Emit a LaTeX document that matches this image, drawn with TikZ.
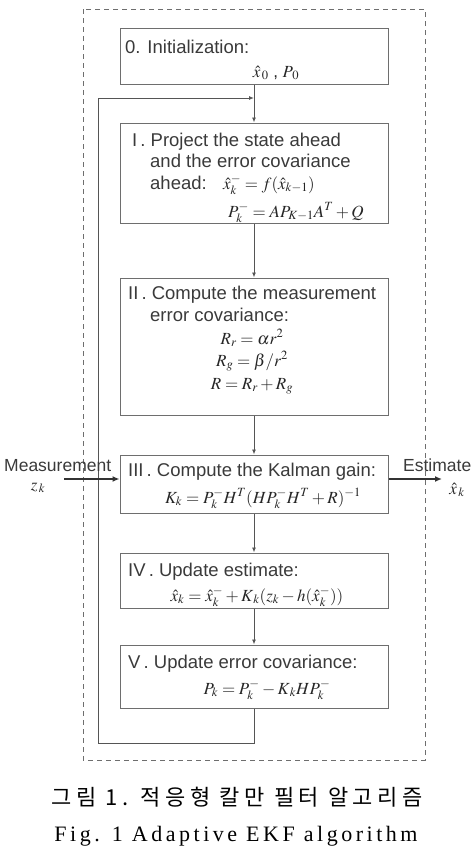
\documentclass[tikz,border=0pt]{standalone}
\usepackage{mathptmx}
\usepackage{fontspec}
\setmainfont{Liberation Sans}
\newfontfamily\capserif[LetterSpace=16]{Liberation Serif}
\newfontfamily\capkr[LetterSpace=20]{Noto Sans CJK KR}
\usetikzlibrary{arrows.meta, positioning}
\definecolor{boxline}{HTML}{6E6E6E}
\definecolor{flowline}{HTML}{555555}
\definecolor{inktext}{HTML}{3A3A3A}
\tikzset{
  stagebox/.style={draw=boxline, line width=1pt, minimum width=268pt, inner sep=0pt},
  flow/.style={draw=flowline, line width=0.9pt, -{Latex[length=5pt, width=4pt]}},
  bigflow/.style={draw=black!80, line width=1.6pt, -{Latex[length=7pt, width=6pt]}},
  steptext/.style={anchor=base west, inner sep=0pt, text=inktext},
  sidetext/.style={steptext, font=\fontsize{17.5}{20}\selectfont},
  eqn/.style={anchor=base, inner sep=0pt, text=black!85, font=\fontsize{17}{20}\selectfont},
}

\begin{document}
\begin{tikzpicture}[x=1pt, y=-1pt, font=\fontsize{18.5}{21}\selectfont]
  \useasboundingbox (0,0) rectangle (475,847);
  % --- dashed frame round the filter loop ---
  \draw[boxline, line width=0.9pt, dash pattern=on 5pt off 4pt] (83,9) rectangle (425,760);
  % --- the five stages plus initialization ---
  \node[stagebox, minimum height=56pt]  (init)     at (254,56)    {};
  \node[stagebox, minimum height=100pt] (predict)  at (254,173)   {};
  \node[stagebox, minimum height=137pt] (noisecov) at (254,346.5) {};
  \node[stagebox, minimum height=58pt]  (gain)     at (254,484)   {};
  \node[stagebox, minimum height=55pt]  (update)   at (254,580.5) {};
  \node[stagebox, minimum height=63pt]  (covupd)   at (254,676.5) {};
  % 0. initialization
  \node[steptext] (initttl) at (125,53) {0. Initialization:};
  \node[eqn] (initeq) at (276,77) {$\hat{x}_{\,0}$\ ,\ $P_{\,0}$};
  % I. prediction
  \node[steptext] (predttl1) at (132,146) {I\,. Project the state ahead};
  \node[steptext] (predttl2) at (150,167) {and the error covariance};
  \node[steptext] (predttl3) at (150,189) {ahead:};
  \node[eqn, anchor=base west] (predeq1) at (223,189) {$\hat{x}_k^- = f(\hat{x}_{k-1})$};
  \node[eqn, anchor=base west] (predeq2) at (228,217) {$P_k^- = AP_{K-1}A^T + Q$};
  % II. measurement noise
  \node[steptext] (covttl1) at (128,299) {II\,. Compute the measurement};
  \node[steptext] (covttl2) at (150,321) {error covariance:};
  \node[eqn] (coveq1) at (252,344) {$R_r = \alpha r^2$};
  \node[eqn] (coveq2) at (252,366) {$R_g = \beta / r^2$};
  \node[eqn] (coveq3) at (252,389) {$R = R_r + R_g$};
  % III. gain
  \node[steptext] (gainttl) at (128,476) {III\,. Compute the Kalman gain:};
  \node[eqn] (gaineq) at (263,503) {$K_k = P_k^- H^T (HP_k^- H^T + R)^{-1}$};
  % IV. estimate
  \node[steptext] (updttl) at (128,576) {IV\,. Update estimate:};
  \node[eqn] (updeq) at (257,601) {$\hat{x}_k = \hat{x}_k^- + K_{\,k} (z_k - h(\hat{x}_k^-))$};
  % V. covariance
  \node[steptext] (cupttl) at (128,668) {V\,. Update error covariance:};
  \node[eqn] (cupeq) at (267,694) {$P_k = P_k^- - K_{\,k} H P_k^-$};
  % --- flow between stages ---
  \draw[flow] (init) -- (predict);
  \draw[flow] (predict) -- (noisecov);
  \draw[flow] (noisecov) -- (gain);
  \draw[flow] (gain) -- (update);
  \draw[flow] (update) -- (covupd);
  % --- feedback loop back to the top ---
  \coordinate (loopbot) at (98,743);
  \coordinate (looptop) at (98,98);
  \coordinate (merge)   at (254,98);
  \draw[flow] (covupd.south) |- (loopbot) -- (looptop) -- (merge);
  % --- measurement in, estimate out ---
  \coordinate (zin)  at (64,479);
  \coordinate (xout) at (442,479);
  \draw[bigflow] (zin) -- (zin -| gain.west);
  \draw[bigflow] (xout -| gain.east) -- (xout);
  \node[sidetext] (measlbl) at (4,471) {Measurement};
  \node[eqn] (zlbl) at (38,490) {$z_{\,k}$};
  \node[sidetext] (estlbl) at (403,471) {Estimate};
  \node[eqn] (xhatlbl) at (457,494) {$\hat{x}_{\,k}$};
  % --- caption ---
  \node[font=\capkr\fontsize{22}{24}\selectfont] (capko) at (237,797) {그림 1. 적응형 칼만 필터 알고리즘};
  \node[font=\capserif\fontsize{22}{24}\selectfont] (capen) at (236,836) {Fig. 1 Adaptive EKF algorithm};
\end{tikzpicture}
\end{document}
